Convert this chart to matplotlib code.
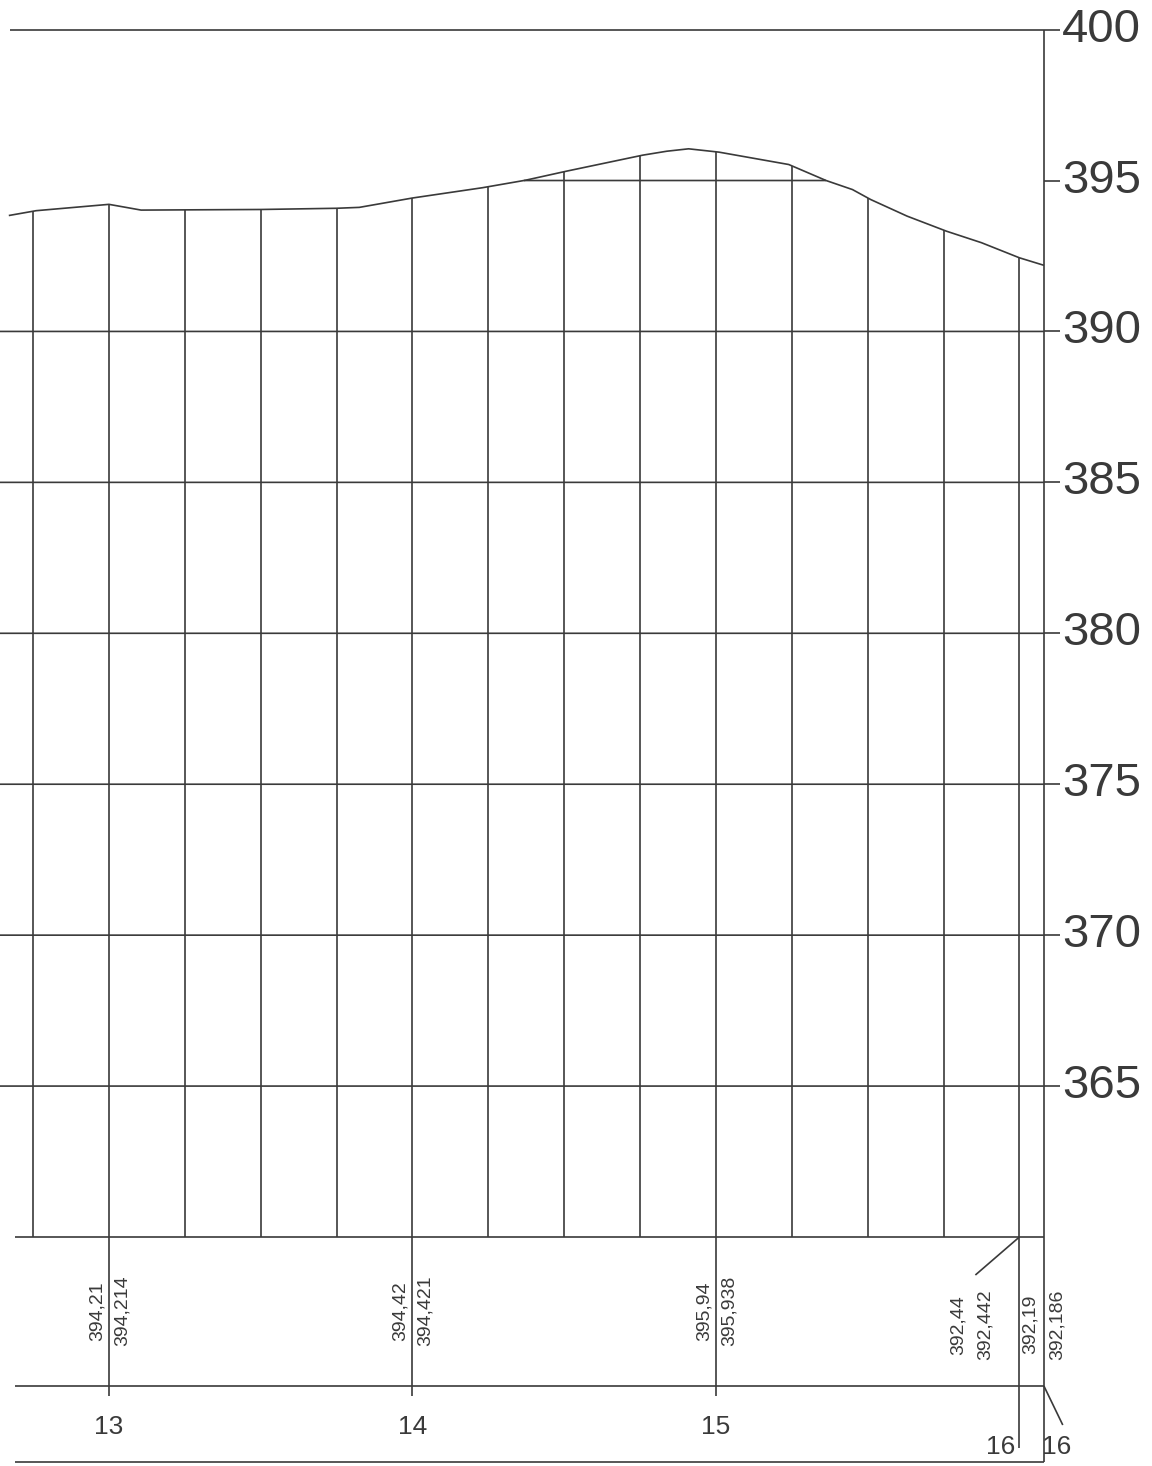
import numpy as np
import matplotlib.pyplot as plt

plt.rcParams['font.family'] = ['Liberation Sans', 'DejaVu Sans']

# ground profile: distance from picket 13 (m) and elevation (m)
dist = [-33, -24, -16, 0, 5.6, 10.6, 30, 50, 75, 82.5, 100, 123, 137.3, 150.8,
        175.9, 183.8, 191, 201, 224, 236.3, 245, 251, 263, 276, 287.5, 300, 308.1]
elev = [393.84, 394.0, 394.07, 394.21, 394.11, 394.02, 394.03, 394.04, 394.08,
        394.11, 394.42, 394.76, 395.01, 395.31, 395.84, 395.97, 396.05, 395.94,
        395.53, 395.0, 394.70, 394.37, 393.82, 393.32, 392.94, 392.44, 392.19]

stations = ["13", "14", "15", "16"]
station_pos = [0, 100, 200, 300]
elev_a = ["394,21", "394,42", "395,94", "392,44"]
elev_b = ["394,214", "394,421", "395,938", "392,442"]

end_pos = 308.1
end_a = "392,19"
end_b = "392,186"
end_station = "16"

levels = [400, 395, 390, 385, 380, 375, 370, 365]
base = 360
step = 25

col = '#3a3a3a'
lw = 1.2

fig = plt.figure(figsize=(11.52, 14.66), dpi=100)
h_tab = 229 / 1466
ax = fig.add_axes([0, h_tab, 1, 1 - h_tab])
tab = fig.add_axes([0, 0, 1, h_tab], sharex=ax)
ax.set_xlim(-35.9, 343.7)
ax.set_ylim(base, 400.98)
tab.set_ylim(0, 1)
ax.axis('off')
tab.axis('off')

kw = dict(color=col, lw=lw, clip_on=False, solid_capstyle='butt')

# profile line
ax.plot(dist, elev, **kw)

# horizontal grid, clipped under the ground line
xs = np.linspace(ax.get_xlim()[0], end_pos, 3000)
prof = np.interp(xs, dist, elev)
for lev in levels:
    if lev >= max(elev):
        ax.plot([-32.5, end_pos + 5.4], [lev, lev], **kw)
    else:
        ax.plot(xs, np.where(prof >= lev, lev, np.nan), **kw)
        ax.plot([end_pos, end_pos + 5.4], [lev, lev], **kw)
    ax.text(end_pos + 5.9, lev, str(lev), fontsize=34, color=col,
            ha='left', va='center')

# base line and right border
ax.plot([-31, end_pos], [base, base], **kw)
ax.plot([end_pos, end_pos], [base, 400], **kw)
tab.plot([end_pos, end_pos], [0.017, 1], **kw)

# verticals every 25 m
for x in np.arange(-25, 301, step):
    ax.plot([x, x], [base, np.interp(x, dist, elev)], **kw)

# table rows
for y in [0.349, 0.017]:
    tab.plot([-31, end_pos], [y, y], **kw)

# picket lines and labels
for i, (name, x) in enumerate(zip(stations, station_pos)):
    if i < 3:
        tab.plot([x, x], [0.306, 1], **kw)
        tab.text(x - 3.9, 0.677, elev_a[i], rotation=90, fontsize=14,
                 color=col, ha='center', va='center')
        tab.text(x + 4.3, 0.677, elev_b[i], rotation=90, fontsize=14,
                 color=col, ha='center', va='center')
        tab.text(x, 0.17, name, fontsize=19, color=col,
                 ha='center', va='center')
    else:
        tab.plot([x, x], [0.079, 1], **kw)
        tab.plot([x - 14.5, x], [0.834, 1], **kw)
        tab.text(x - 20.3, 0.616, elev_a[i], rotation=90, fontsize=14,
                 color=col, ha='center', va='center')
        tab.text(x - 11.4, 0.616, elev_b[i], rotation=90, fontsize=14,
                 color=col, ha='center', va='center')
        tab.text(x - 6.1, 0.083, name, fontsize=19, color=col,
                 ha='center', va='center')

# end point of the profile
tab.text(end_pos - 4.6, 0.62, end_a, rotation=90, fontsize=14,
         color=col, ha='center', va='center')
tab.text(end_pos + 4.3, 0.616, end_b, rotation=90, fontsize=14,
         color=col, ha='center', va='center')
tab.plot([end_pos, end_pos + 6.2], [0.349, 0.179], **kw)
tab.text(end_pos + 4.3, 0.083, end_station, fontsize=19, color=col,
         ha='center', va='center')

fig.savefig('out.png', dpi=100, facecolor='white')
